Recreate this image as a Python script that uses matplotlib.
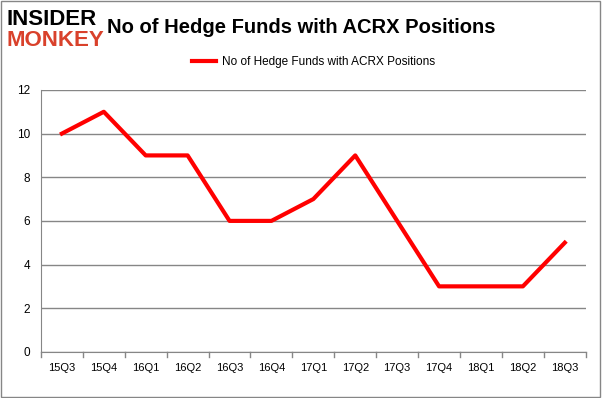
import matplotlib
matplotlib.use("Agg")
import matplotlib.pyplot as plt
from matplotlib.patches import Rectangle

quarters = ["15Q3", "15Q4", "16Q1", "16Q2", "16Q3", "16Q4", "17Q1",
            "17Q2", "17Q3", "17Q4", "18Q1", "18Q2", "18Q3"]
funds = [10, 11, 9, 9, 6, 6, 7, 9, 6, 3, 3, 3, 5]
label = "No of Hedge Funds with ACRX Positions"

plt.rcParams['font.family'] = ['Liberation Sans', 'DejaVu Sans']

fig = plt.figure(figsize=(6.02, 3.98), dpi=100)
ax = fig.add_axes([0.068, 0.116, 0.905, 0.658])

x = range(len(quarters))
ax.plot(x, funds, color="#ff0000", lw=3, label=label)
ax.set_xlim(-0.5, len(quarters) - 0.5)
ax.set_ylim(0, 12)
ax.set_yticks(range(0, 13, 2))
ax.set_xticks(list(x))
ax.set_xticklabels(quarters, fontsize=8)
ax.tick_params(axis="y", labelsize=8.5, length=0, pad=8)
ax.tick_params(axis="x", length=0, pad=8)
# tick marks between categories
for b in range(len(quarters) + 1):
    ax.plot([b - 0.5, b - 0.5], [0, -0.22], color="#868686", lw=1, clip_on=False)
ax.grid(axis="y", color="#868686", lw=1)
ax.set_axisbelow(True)
for s in ["top", "right"]:
    ax.spines[s].set_visible(False)
ax.spines["left"].set_color("#868686")
ax.spines["bottom"].set_color("#868686")

fig.text(0.5, 0.93, "No of Hedge Funds with ACRX Positions", ha="center", va="center",
         fontsize=14.5, fontweight="bold")
ax.legend(loc="center", bbox_to_anchor=(0.5, 1.107), frameon=False, fontsize=8.5,
          handlelength=2.0, handletextpad=0.5)

fig.text(0.01, 0.952, "INSIDER", fontsize=16, fontweight="heavy", color="black", va="center")
fig.text(0.01, 0.897, "MONKEY", fontsize=16, fontweight="heavy", color="#d9412b", va="center")

fig.patches.append(Rectangle((0.002, 0.003), 0.995, 0.994, transform=fig.transFigure,
                             fill=False, edgecolor="#868686", lw=1))

fig.savefig("out.png", dpi=100)
